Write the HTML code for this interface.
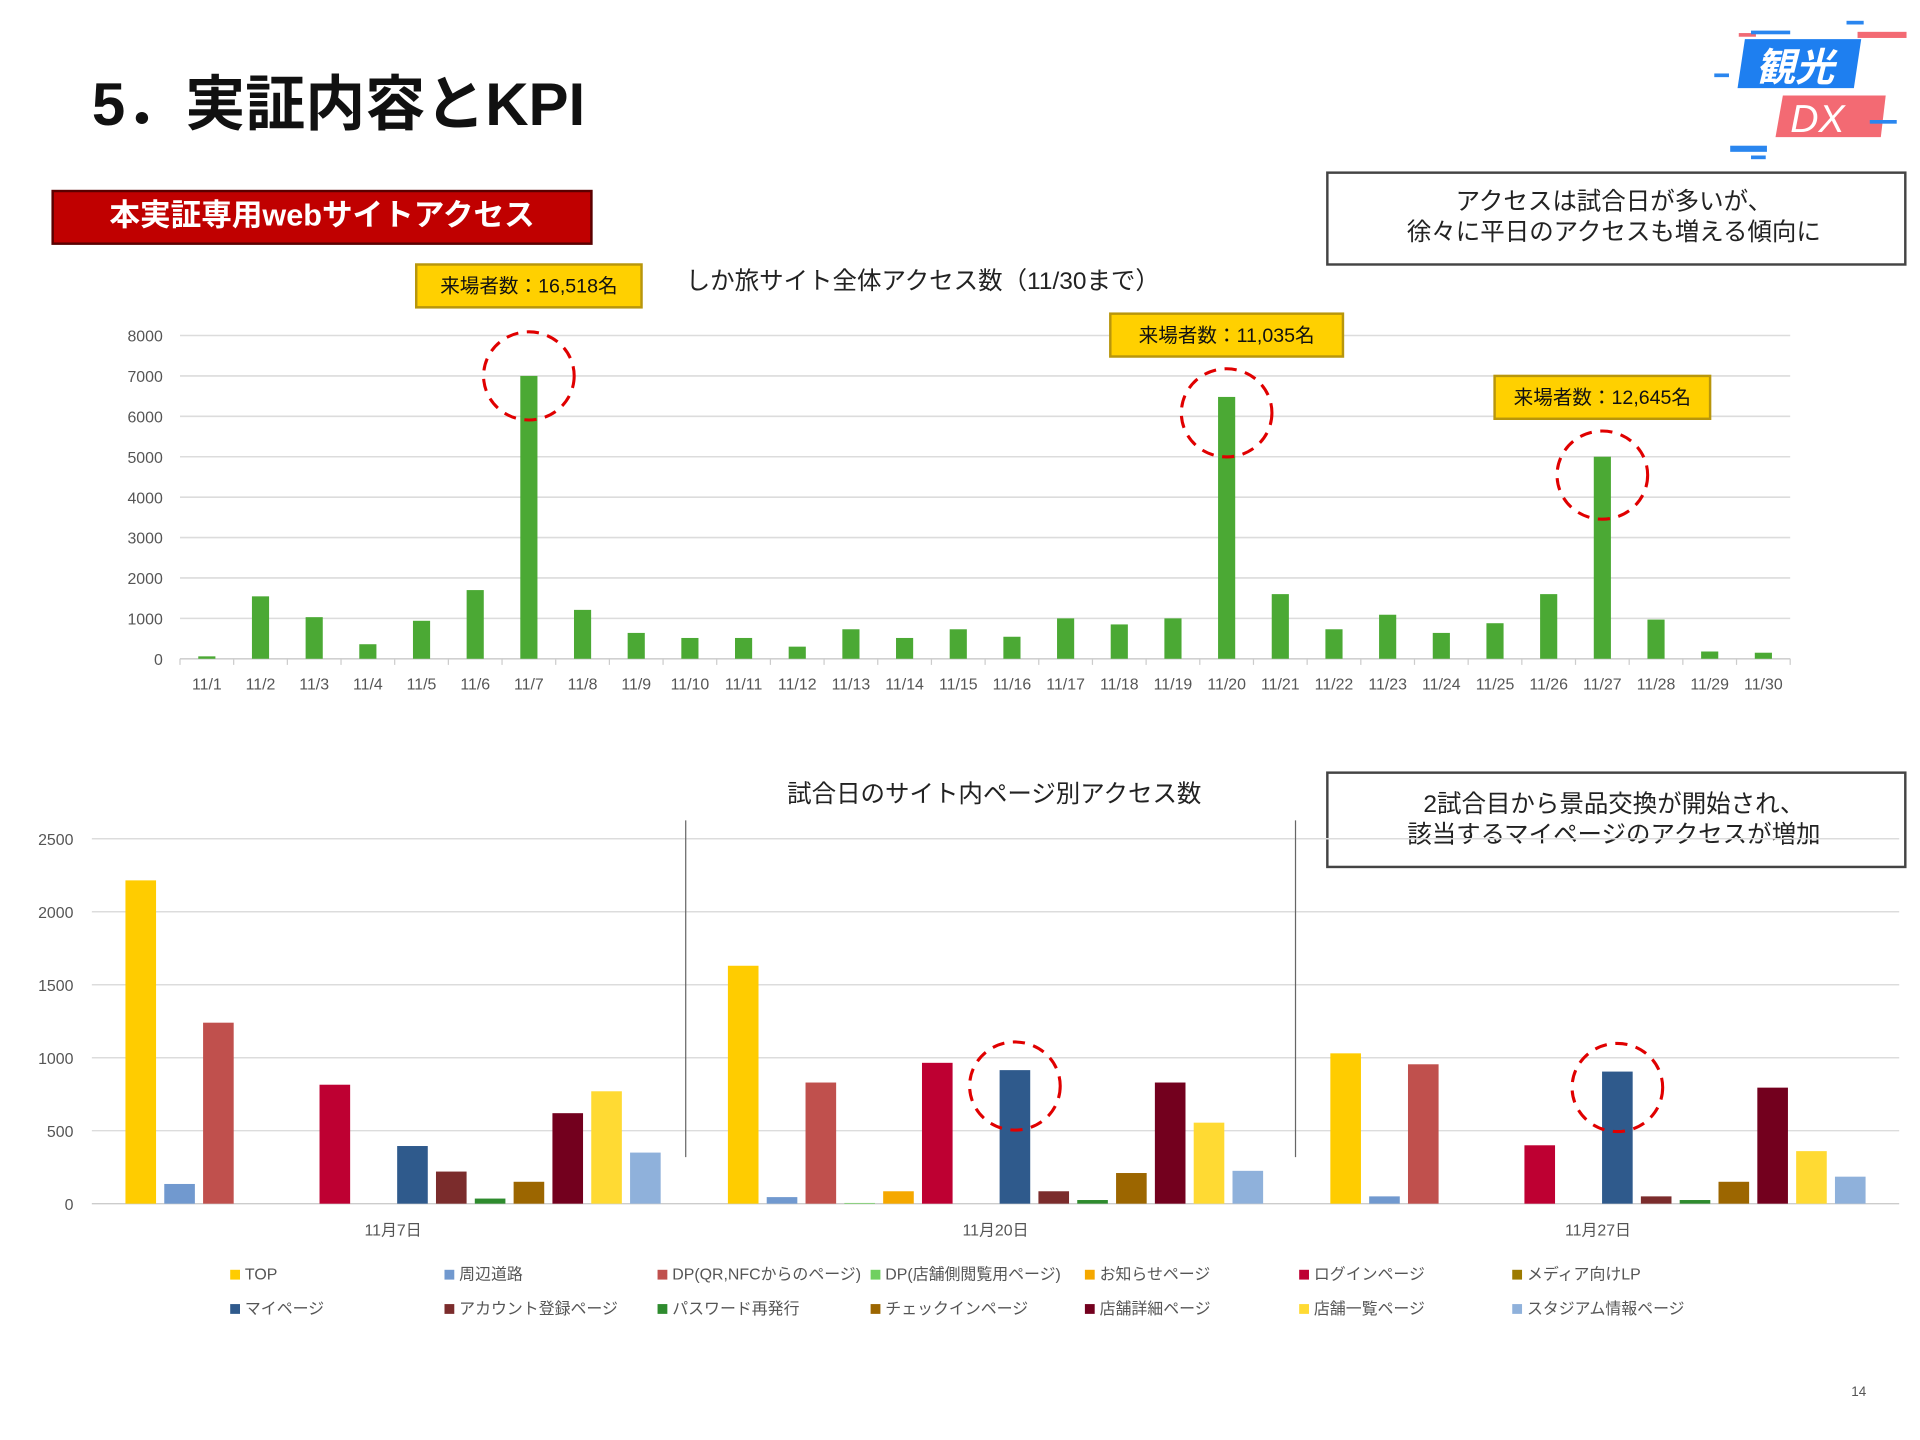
<!DOCTYPE html>
<html><head><meta charset="utf-8">
<style>
html,body{margin:0;padding:0;background:#fff;}
svg{display:block;font-family:"Liberation Sans","Noto Sans CJK JP",sans-serif;}
</style></head>
<body>
<svg id="slide" width="1920" height="1440" viewBox="0 0 1568 1176" xmlns="http://www.w3.org/2000/svg">
<rect width="1568" height="1176" fill="#fff"/>
<text x="75" y="102" font-size="49" font-weight="bold" fill="#111">5．実証内容とKPI</text>
<g>
  <rect x="1420" y="27" width="14" height="3" fill="#f06a75"/>
  <rect x="1430" y="25" width="32" height="3" fill="#2a86ef"/>
  <polygon points="1425,32 1520,32 1514,72 1419,72" fill="#1e7ff0"/>
  <polygon points="1456,78 1540,78 1536,112 1450,112" fill="#f36a73"/>
  <rect x="1517" y="26" width="40" height="5" fill="#f36a73"/>
  <rect x="1508" y="17" width="14" height="3" fill="#2a86ef"/>
  <rect x="1413" y="119" width="30" height="5" fill="#2a86ef"/>
  <rect x="1430" y="127" width="12" height="3" fill="#2a86ef"/>
  <rect x="1400" y="60" width="12" height="3" fill="#2a86ef"/>
  <rect x="1527" y="98" width="22" height="3" fill="#2a86ef"/>
  <text x="1434" y="66" font-size="32" font-style="italic" font-weight="bold" fill="#fff">観光</text>
  <text x="1462" y="108" font-size="32" font-style="italic" fill="#fff">DX</text>
</g>
<g>
  <rect x="43" y="156" width="440" height="43" fill="#C00000" stroke="#5a0000" stroke-width="2"/>
  <text x="263" y="184" font-size="25" font-weight="bold" fill="#fff" text-anchor="middle">本実証専用webサイトアクセス</text>
</g>
<g>
  <rect x="1084" y="141" width="472" height="75" fill="#fff" stroke="#444" stroke-width="2"/>
  <text x="1318" y="171" font-size="20" fill="#222" text-anchor="middle">アクセスは試合日が多いが、</text>
  <text x="1318" y="196" font-size="20" fill="#222" text-anchor="middle">徐々に平日のアクセスも増える傾向に</text>
</g>
<g>
  <rect x="1084" y="631" width="472" height="77" fill="#fff" stroke="#444" stroke-width="2"/>
  <text x="1318" y="663" font-size="20" fill="#222" text-anchor="middle">2試合目から景品交換が開始され、</text>
  <text x="1318" y="688" font-size="20" fill="#222" text-anchor="middle">該当するマイページのアクセスが増加</text>
</g>
<text x="560" y="236" font-size="20" fill="#222">しか旅サイト全体アクセス数（11/30まで）</text>
<g id="topChart"></g>
<text x="812" y="655" font-size="20" fill="#222" text-anchor="middle">試合日のサイト内ページ別アクセス数</text>
<g id="bottomChart"></g>
<g id="legend"></g>
<text x="1518" y="1140" font-size="11" fill="#555" text-anchor="middle">14</text>
</svg>
<script>
const dayLabels = ["11/1","11/2","11/3","11/4","11/5","11/6","11/7","11/8","11/9","11/10","11/11","11/12","11/13","11/14","11/15","11/16","11/17","11/18","11/19","11/20","11/21","11/22","11/23","11/24","11/25","11/26","11/27","11/28","11/29","11/30"];
const dailyAccess = [60,1545,1030,360,940,1700,7000,1210,640,515,515,300,730,515,730,545,1000,850,1000,6480,1600,730,1090,640,880,1600,5000,970,180,150];
const topTicks = [0,1000,2000,3000,4000,5000,6000,7000,8000];
const noteDays = ["11/7","11/20","11/27"];
const noteTexts = ["来場者数：16,518名","来場者数：11,035名","来場者数：12,645名"];
const matchDays = ["11月7日","11月20日","11月27日"];
const pageNames = ["TOP","周辺道路","DP(QR,NFCからのページ)","DP(店舗側閲覧用ページ)","お知らせページ","ログインページ","メディア向けLP","マイページ","アカウント登録ページ","パスワード再発行","チェックインページ","店舗詳細ページ","店舗一覧ページ","スタジアム情報ページ"];
const pageColors = ["#FFCC00","#7199CF","#C0504D","#70D060","#F5A800","#BE0032","#9C7A00","#2F5A8C","#7B2C2C","#2E8B2E","#9C6600","#73001E","#FFDA33","#8FB1DB"];
const accessNov7 = [2215,135,1240,0,0,815,0,395,220,35,150,620,770,350];
const accessNov20 = [1630,45,830,5,85,965,0,915,85,25,210,830,555,225];
const accessNov27 = [1030,50,955,0,0,400,0,905,50,25,150,795,360,185];
const bottomTicks = [0,500,1000,1500,2000,2500];
const highlightSeries = "マイページ";

// layout (not data)
const circleDy = [0,13,15];
const boxGap = [20,10,10];
const boxW = [184,190,176];

const NS = "http://www.w3.org/2000/svg";
function mk(tag, attrs, parent){const e=document.createElementNS(NS,tag);for(const k in attrs)e.setAttribute(k,attrs[k]);parent.appendChild(e);return e;}

const topG = document.getElementById('topChart');
const tX0=147, tX1=1462, tY0=538, tY1=274;
const tStep=(tX1-tX0)/dayLabels.length;
function tx(i){return tX0+tStep*(i+0.5);}
function ty(v){return tY0-(v/8000)*(tY0-tY1);}
topTicks.forEach(v=>{
  const l=mk('line',{x1:tX0,x2:tX1,y1:ty(v),y2:ty(v),stroke:v===0?'#d0d0d0':'#dcdcdc','stroke-width':1.3},topG);
  
  
  const t=mk('text',{x:133,y:ty(v)+5,'font-size':13,fill:'#555','text-anchor':'end'},topG);
  t.textContent=v;
  
  
});
for(let i=0;i<=dayLabels.length;i++){
  const x=tX0+tStep*i;
  const l=mk('line',{x1:x,x2:x,y1:tY0,y2:tY0+5,stroke:'#ccc'},topG);
  
  
}
dayLabels.forEach((d,i)=>{
  const r=mk('rect',{x:tx(i)-7,y:ty(dailyAccess[i]),width:14,height:tY0-ty(dailyAccess[i]),fill:'#4BA934'},topG);
  
  
  const t=mk('text',{x:tx(i),y:563,'font-size':13,fill:'#555','text-anchor':'middle'},topG);
  t.textContent=d;
  
  
});
noteDays.forEach((day,k)=>{
  const i=dayLabels.indexOf(day);
  const cx=tx(i), cy=ty(dailyAccess[i])+circleDy[k];
  const el=mk('ellipse',{cx:cx,cy:cy,rx:37,ry:36,fill:'none',stroke:'#E00000','stroke-width':2.5,'stroke-dasharray':'10 7'},topG);
  
  
  const bw=boxW[k], bh=35;
  const by0 = cy-36-bh-boxGap[k];
  const g=mk('g',{},topG);
  
  
  mk('rect',{x:cx-bw/2,y:by0,width:bw,height:bh,fill:'#FFD000',stroke:'#B8960C','stroke-width':2},g);
  const t=mk('text',{x:cx,y:by0+23,'font-size':16,fill:'#111','text-anchor':'middle'},g);
  t.textContent=noteTexts[k];
});

const bot=document.getElementById('bottomChart');
const bX0=75, bX1=1551, bY0=983, bY1=685;
const gW=(bX1-bX0)/matchDays.length;
const slot=31.7, pad=(gW-slot*pageNames.length)/2;
function by(v){return bY0-(v/2500)*(bY0-bY1);}
function bx(g,s){return bX0+gW*g+pad+slot*(s+0.5);}
bottomTicks.forEach(v=>{
  const l=mk('line',{x1:bX0,x2:bX1,y1:by(v),y2:by(v),stroke:v===0?'#ccc':'#dcdcdc','stroke-width':1.2},bot);
  
  
  const t=mk('text',{x:60,y:by(v)+5,'font-size':13,fill:'#555','text-anchor':'end'},bot);
  t.textContent=v;
  
  
});
[560,1058].forEach(x=>{
  const l=mk('line',{x1:x,x2:x,y1:670,y2:945,stroke:'#666','stroke-width':1},bot);
  
  
});
const groupData=[accessNov7,accessNov20,accessNov27];
matchDays.forEach((d,g)=>{
  groupData[g].forEach((v,s)=>{
    const r=mk('rect',{x:bx(g,s)-12.5,y:by(v),width:25,height:bY0-by(v),fill:pageColors[s]},bot);
    
    
  });
  const t=mk('text',{x:bX0+gW*(g+0.5),y:1009,'font-size':13,fill:'#555','text-anchor':'middle'},bot);
  t.textContent=d;
  
  
});
const hs=pageNames.indexOf(highlightSeries);
[1,2].forEach(g=>{
  const e=mk('ellipse',{cx:bx(g,hs),cy:by(groupData[g][hs])+13,rx:37,ry:36,fill:'none',stroke:'#E00000','stroke-width':2.5,'stroke-dasharray':'10 7'},bot);
  
  
});

const leg=document.getElementById('legend');
const legCols=[188,363,537,711,886,1061,1235];
pageNames.forEach((n,i)=>{
  const row=Math.floor(i/7), col=i%7;
  const x=legCols[col], y=1040+row*28;
  const g=mk('g',{},leg);
  
  
  mk('rect',{x:x,y:y-3,width:8,height:8,fill:pageColors[i]},g);
  const t=mk('text',{x:x+12,y:y+5,'font-size':13,fill:'#555'},g);
  t.textContent=n;
});
</script>
</body></html>
